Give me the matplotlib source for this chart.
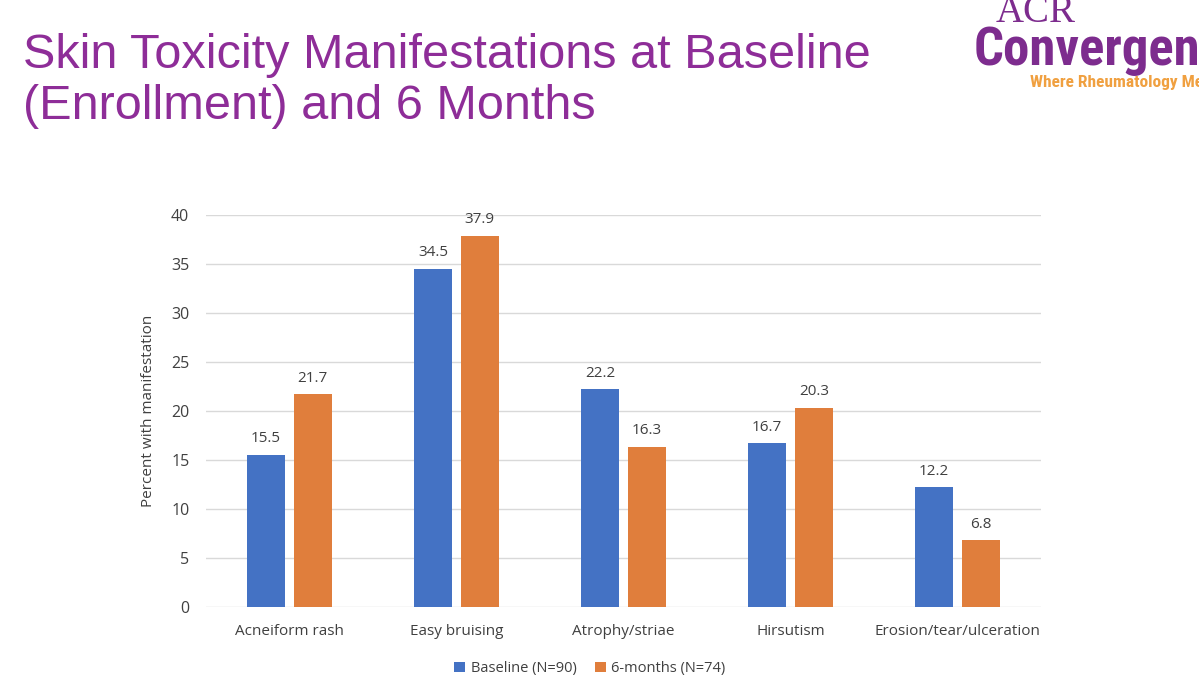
import matplotlib.pyplot as plt
import numpy as np

categories = ["Acneiform rash", "Easy bruising", "Atrophy/striae", "Hirsutism", "Erosion/tear/ulceration"]
baseline = [15.5, 34.5, 22.2, 16.7, 12.2]
six_months = [21.7, 37.9, 16.3, 20.3, 6.8]
series_names = ["Baseline (N=90)", "6-months (N=74)"]
title_lines = ["Skin Toxicity Manifestations at Baseline", "(Enrollment) and 6 Months"]

H = 684
fig = plt.figure(figsize=(11.99, 6.84), dpi=100)
fig.patch.set_facecolor("white")

# slide title, one text per line so the baselines sit where they should
for line, base in zip(title_lines, [68, 119]):
    fig.text(0.019, 1 - base / H, line, fontsize=35, color="#8E2D98", family="Liberation Sans",
             ha="left", va="baseline")

# logo, cut off at the right edge like in the slide
narrow = ["Roboto Condensed", "Noto Sans Condensed", "Liberation Sans Narrow", "Noto Sans"]
fig.text(996 / 1199, 1 - 22 / H, "ACR", fontsize=28, color="#7D2C8E", family="Liberation Serif",
         ha="left", va="baseline")
fig.text(974 / 1199, 1 - 65 / H, "Convergence", fontsize=38, color="#7D2C8E", fontweight="bold",
         family=narrow, fontstretch="condensed", ha="left", va="baseline")
fig.text(1030 / 1199, 1 - 87 / H, "Where Rheumatology Meets", fontsize=12.5, color="#F0A040",
         fontweight="bold", family=narrow, fontstretch="condensed", ha="left", va="baseline")

ax = fig.add_axes([0.1718, 0.1126, 0.6964, 0.5731])
x = np.arange(len(categories))
w = 0.225
off = 0.14
b1 = ax.bar(x - off, baseline, w, color="#4472C4", label=series_names[0], zorder=3)
b2 = ax.bar(x + off, six_months, w, color="#E07E3C", label=series_names[1], zorder=3)

for bars, vals in [(b1, baseline), (b2, six_months)]:
    for r, v in zip(bars, vals):
        ax.text(r.get_x() + r.get_width() / 2, v + 0.9, f"{v:.1f}", ha="center", va="bottom",
                fontsize=11, color="#404040", family="Open Sans")

ax.set_xlim(-0.5, len(categories) - 0.5)
ax.set_ylim(0, 40)
ax.set_yticks(range(0, 41, 5))
ax.set_xticks(x)
ax.set_xticklabels(categories)
ax.grid(axis="y", color="#D9D9D9", linewidth=1, zorder=0)
for s in ["top", "right", "left", "bottom"]:
    ax.spines[s].set_visible(False)
ax.tick_params(axis="both", length=0, labelcolor="#404040")
ax.tick_params(axis="y", pad=12, labelsize=11.5)
ax.tick_params(axis="x", pad=12, labelsize=11)
for lab in ax.get_xticklabels() + ax.get_yticklabels():
    lab.set_family("Open Sans")
ax.set_ylabel("Percent with manifestation", fontsize=11, color="#404040", family="Open Sans", labelpad=11)

leg = ax.legend(loc="upper center", bbox_to_anchor=(0.46, -0.105), ncol=2, frameon=False,
                handlelength=0.7, handleheight=0.7, handletextpad=0.4, columnspacing=1.3,
                prop={"family": "Open Sans", "size": 10.5})
for t in leg.get_texts():
    t.set_color("#404040")

plt.savefig("out.png", dpi=100)
